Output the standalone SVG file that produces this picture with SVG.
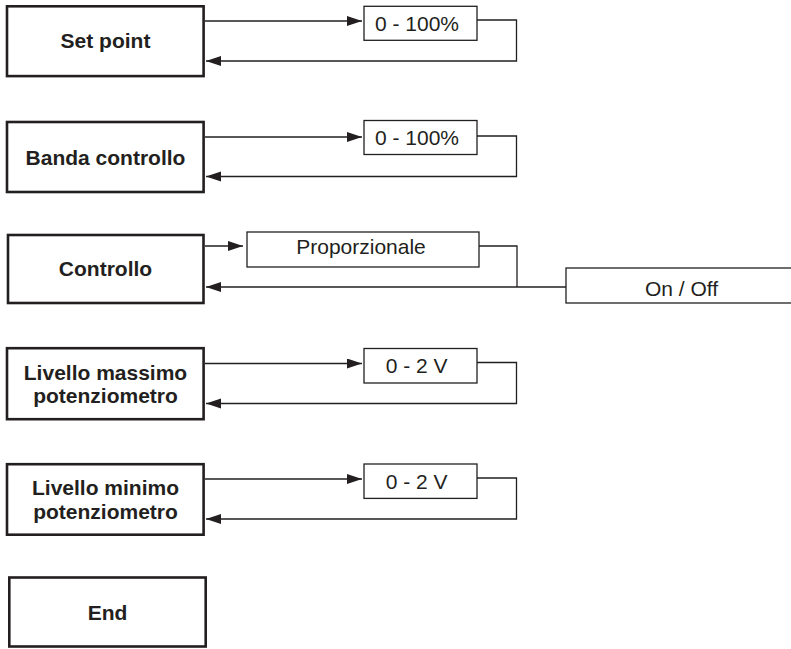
<svg xmlns="http://www.w3.org/2000/svg" width="791" height="649" viewBox="0 0 791 649">
<style>
.main{fill:#fff;stroke:#231f20;stroke-width:2.6}
.val{fill:#fff;stroke:#231f20;stroke-width:1.3}
.bt{font-family:"Liberation Sans",Arial,sans-serif;font-weight:bold;font-size:21px;fill:#231f20;text-anchor:middle}
.vt{font-family:"Liberation Sans",Arial,sans-serif;font-size:21px;fill:#231f20;text-anchor:middle}
.ln{fill:none;stroke:#231f20;stroke-width:1.3}
.ar{marker-end:url(#ah)}
</style>
<defs>
<marker id="ah" markerUnits="userSpaceOnUse" markerWidth="16" markerHeight="11" refX="15" refY="5" orient="auto">
<path d="M0,0 L15,5 L0,10 z" fill="#231f20"/>
</marker>
</defs>
<rect width="791" height="649" fill="#fff"/>
<g id="connectors">
<path class="ln ar" d="M205,21 H362"/>
<path class="ln ar" d="M477,20 H516.5 V61 H206"/>
<path class="ln ar" d="M205,137 H362"/>
<path class="ln ar" d="M477,136 H516.5 V176.5 H206"/>
<path class="ln ar" d="M205,246 H243"/>
<path class="ln" d="M479,246 H517 V287"/>
<path class="ln ar" d="M566,287 H206"/>
<path class="ln ar" d="M205,363.5 H362"/>
<path class="ln ar" d="M477,362.5 H516.5 V403.5 H206"/>
<path class="ln ar" d="M205,479 H362"/>
<path class="ln ar" d="M477,478 H516.5 V519 H206"/>
</g>
<g id="setpoint">
<rect class="main" x="7" y="6.3" width="196.6" height="69.8"/>
<text class="bt" x="105.5" y="48.3">Set point</text>
</g>
<g id="setpoint-val">
<rect class="val" x="364" y="6.3" width="113" height="34"/>
<text class="vt" x="417" y="31">0 - 100%</text>
</g>
<g id="banda">
<rect class="main" x="7" y="122" width="196.6" height="70"/>
<text class="bt" x="105.5" y="165">Banda controllo</text>
</g>
<g id="banda-val">
<rect class="val" x="364" y="120.5" width="113" height="34"/>
<text class="vt" x="417" y="145">0 - 100%</text>
</g>
<g id="controllo">
<rect class="main" x="8" y="235" width="195.5" height="68"/>
<text class="bt" x="105.5" y="276">Controllo</text>
</g>
<g id="proporzionale">
<rect class="val" x="247" y="232" width="232" height="35"/>
<text class="vt" x="361" y="254">Proporzionale</text>
</g>
<g id="onoff">
<rect class="val" x="566" y="268" width="240" height="35"/>
<text class="vt" x="681.5" y="296">On / Off</text>
</g>
<g id="livmax">
<rect class="main" x="7" y="348.2" width="196.6" height="71"/>
<text class="bt" x="105.5" y="380">Livello massimo</text>
<text class="bt" x="105.5" y="403.4">potenziometro</text>
</g>
<g id="livmax-val">
<rect class="val" x="364" y="348.5" width="113" height="34.5"/>
<text class="vt" x="416.7" y="373.3">0 - 2 V</text>
</g>
<g id="livmin">
<rect class="main" x="7" y="464.2" width="196.6" height="70.5"/>
<text class="bt" x="105.5" y="495">Livello minimo</text>
<text class="bt" x="105.5" y="519">potenziometro</text>
</g>
<g id="livmin-val">
<rect class="val" x="364" y="464" width="113" height="34.4"/>
<text class="vt" x="416.7" y="488.5">0 - 2 V</text>
</g>
<g id="end">
<rect class="main" x="9.3" y="577.5" width="196.4" height="69"/>
<text class="bt" x="107.5" y="620">End</text>
</g>
</svg>
